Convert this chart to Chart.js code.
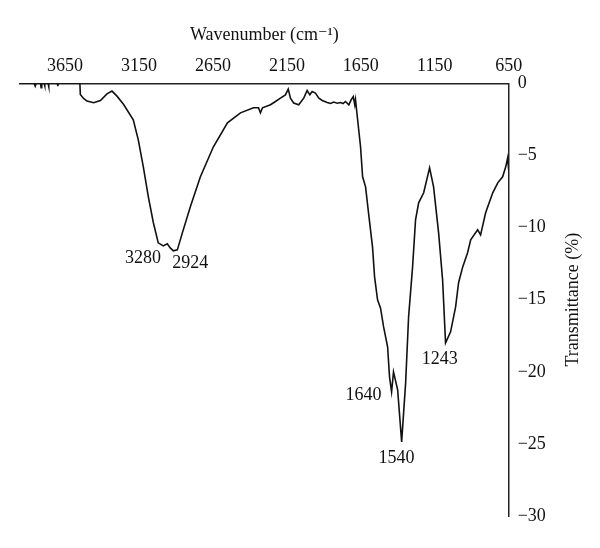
<!DOCTYPE html>
<html>
<head>
<meta charset="utf-8">
<script src="https://cdn.jsdelivr.net/npm/chart.js@4"></script>
<style>
  html, body { margin: 0; padding: 0; background: #fff; }
  #wrap { width: 600px; height: 548px; }
</style>
</head>
<body>
<div id="wrap"><canvas id="ftir"></canvas></div>
<script>
// spectrum
const wavenumber = [
  3954, 3860, 3852, 3845, 3816, 3812, 3808, 3792, 3789, 3786,
  3765, 3762, 3759, 3702, 3699, 3696, 3550, 3547, 3525, 3502,
  3457, 3411, 3367, 3333, 3299, 3254, 3189, 3155, 3121, 3087,
  3053, 3020, 2986, 2959, 2939, 2918, 2891, 2857, 2803, 2735,
  2647, 2552, 2464, 2376, 2342, 2329, 2315, 2261, 2227, 2194,
  2160, 2141, 2126, 2104, 2070, 2036, 2013, 1995, 1979, 1957,
  1934, 1911, 1877, 1855, 1833, 1810, 1787, 1770, 1754, 1731,
  1715, 1701, 1691, 1686, 1674, 1652, 1638, 1618, 1598, 1571,
  1557, 1537, 1517, 1496, 1469, 1456, 1442, 1429, 1401, 1374,
  1347, 1327, 1300, 1280, 1259, 1225, 1185, 1158, 1124, 1097,
  1077, 1043, 1009, 989, 961, 928, 907, 860, 840, 806,
  758, 724, 691, 670, 657, 650
];
const transmittance = [
  0, 0, -0.2, 0, 0, -0.31, 0, 0, -0.17, 0,
  0, -0.22, 0, 0, -0.2, 0, 0, -0.78, -1.05, -1.23,
  -1.35, -1.19, -0.73, -0.54, -0.89, -1.47, -2.53, -3.92, -5.79, -7.87,
  -9.67, -11.06, -11.27, -11.13, -11.41, -11.62, -11.55, -10.37, -8.56, -6.48,
  -4.40, -2.74, -2.05, -1.70, -1.70, -2.05, -1.70, -1.49, -1.26, -1.03,
  -0.80, -0.40, -1.03, -1.37, -1.49, -1.03, -0.50, -0.80, -0.57, -0.68,
  -1.03, -1.19, -1.33, -1.40, -1.30, -1.38, -1.33, -1.40, -1.26, -1.49,
  -1.14, -0.92, -1.49, -1.14, -2.30, -4.40, -6.48, -7.18, -8.98, -11.34,
  -13.42, -15.01, -15.57, -16.89, -18.27, -20.35, -21.39, -20.01, -21.25, -24.86,
  -20.77, -16.19, -12.73, -9.47, -8.29, -7.59, -5.86, -7.18, -10.37, -13.63,
  -18.0, -17.23, -15.50, -13.83, -12.73, -11.75, -10.85, -10.16, -10.51, -8.98,
  -7.59, -6.90, -6.48, -5.79, -5.17, -6.0
];
const xTicks = [3650, 3150, 2650, 2150, 1650, 1150, 650];
const peakLabels = ["3280", "2924", "1640", "1540", "1243"];

const serif = "'Liberation Serif', 'DejaVu Serif', serif";

// where each peak label sits, in axis units
const labelSpots = [
  [3124, -12.1], [2803, -12.45], [1632, -21.6], [1408, -25.97], [1117, -19.1]
];

const extras = {
  id: "extras",
  afterDraw(chart) {
    const ctx = chart.ctx;
    const xs = chart.scales.x, ys = chart.scales.y;
    ctx.save();
    ctx.fillStyle = "#111";
    ctx.font = "18px " + serif;
    ctx.textAlign = "center";
    ctx.textBaseline = "middle";
    peakLabels.forEach((txt, i) => {
      const [wx, wy] = labelSpots[i];
      ctx.fillText(txt, xs.getPixelForValue(wx), ys.getPixelForValue(wy));
    });
    // right axis title, reading upwards
    ctx.translate(573, (chart.chartArea.top + chart.chartArea.bottom) / 2);
    ctx.rotate(-Math.PI / 2);
    ctx.fillText("Transmittance (%)", 0, 0);
    ctx.restore();
  }
};

new Chart(document.getElementById("ftir"), {
  type: "line",
  data: {
    datasets: [{
      data: wavenumber.map((w, i) => ({ x: w, y: transmittance[i] })),
      borderColor: "#111",
      borderWidth: 1.6,
      pointRadius: 0,
      tension: 0,
      fill: false
    }]
  },
  options: {
    responsive: true,
    maintainAspectRatio: false,
    animation: false,
    layout: { padding: { left: 20, top: 0, right: 0, bottom: 32 } },
    plugins: { legend: { display: false }, tooltip: { enabled: false } },
    scales: {
      x: {
        type: "linear",
        position: "top",
        reverse: true,
        min: 650,
        max: 3955,
        grid: { display: false, drawTicks: false },
        border: { display: true, color: "#222", width: 1.5 },
        afterBuildTicks(scale) {
          scale.ticks = xTicks.map(v => ({ value: v }));
        },
        afterFit(scale) { scale.height = 83.3; },
        ticks: {
          color: "#111",
          padding: 6,
          maxRotation: 0,
          autoSkip: false,
          font: { family: serif, size: 18 },
          callback: v => String(v)
        },
        title: {
          display: true,
          text: "Wavenumber (cm\u207B\u00B9)",
          color: "#111",
          padding: { top: 24 },
          font: { family: serif, size: 18 }
        }
      },
      y: {
        position: "right",
        min: -30,
        max: 0,
        grid: { display: false, drawTicks: false },
        border: { display: true, color: "#222", width: 1.5 },
        afterFit(scale) { scale.width = 91.3; },
        ticks: {
          stepSize: 5,
          color: "#111",
          padding: 9,
          font: { family: serif, size: 18 },
          callback: v => String(v).replace("-", "\u2212")
        }
      }
    }
  },
  plugins: [extras]
});
</script>
</body>
</html>
